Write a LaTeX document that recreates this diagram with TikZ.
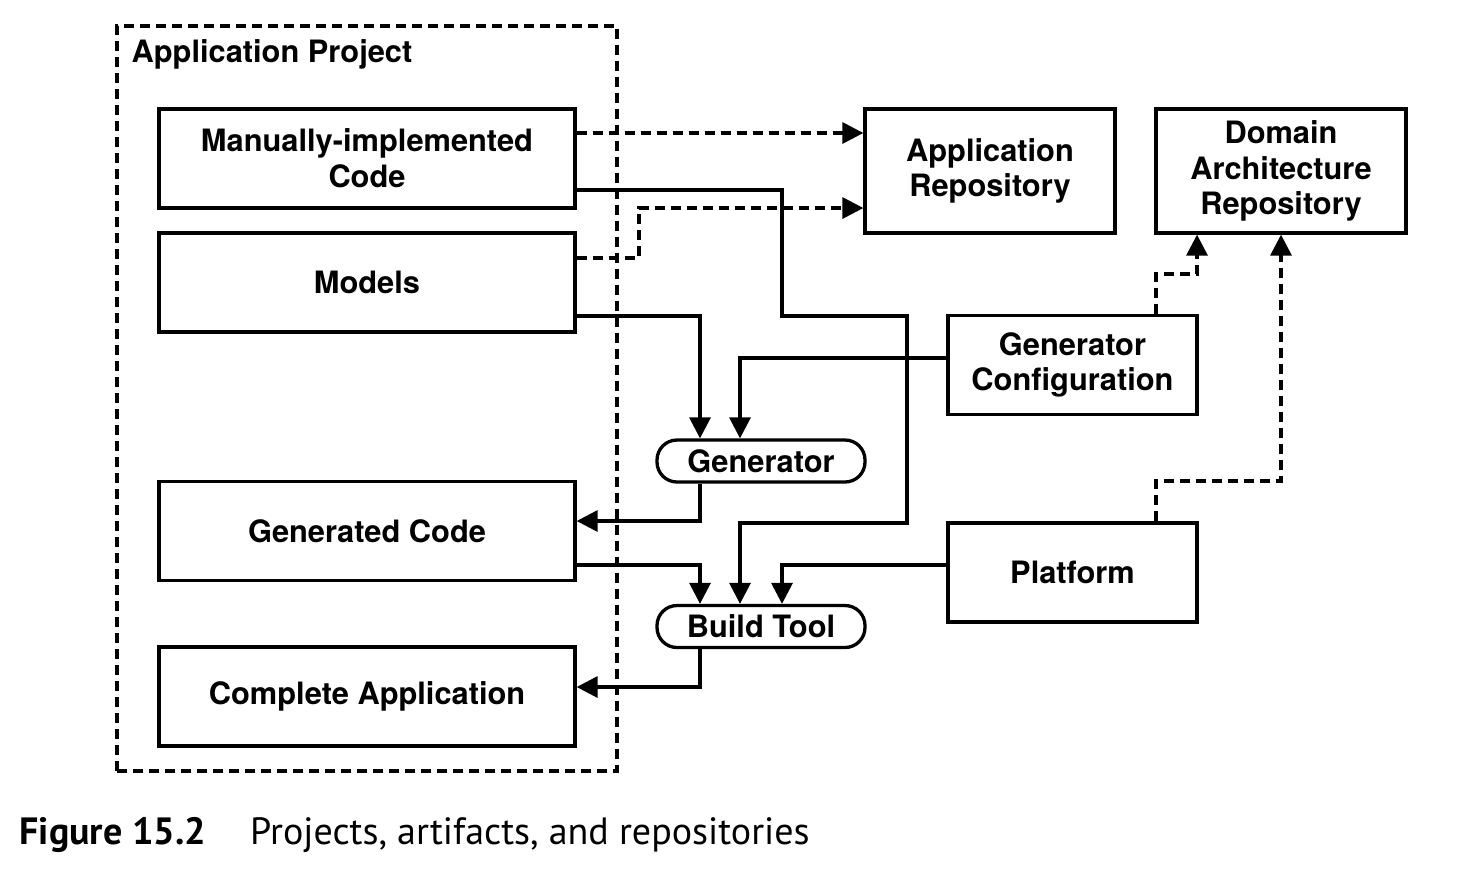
\documentclass[tikz,border=0pt]{standalone}
\usepackage{fontspec}
\setmainfont{TeX Gyre Heros}
\newfontfamily\capfont{PT Sans}
\usetikzlibrary{arrows.meta}

\begin{document}
\begin{tikzpicture}[x=0.5pt,y=-0.5pt,line width=1.65pt,
    >={Triangle[length=10.5pt,width=10.5pt]},
    lbl/.style={font=\fontsize{15.4}{17.8}\selectfont\bfseries},
    box/.style={draw,lbl,align=center,minimum width=208pt,minimum height=49.5pt},
    repo/.style={box,minimum width=125pt,minimum height=62pt},
    tool/.style={box,rounded corners=10pt,minimum width=104pt,minimum height=21pt,inner sep=0pt},
    dsh/.style={dash pattern=on 5pt off 3pt}]
    \useasboundingbox (0,0) rectangle (1476,880);

    % the project frame
    \node [draw,dsh,minimum width=250pt,minimum height=372.5pt] (project) at (367,398.5) {};
    \node [lbl,anchor=west,inner sep=0pt] (projlabel) at (130,54) {Application Project};

    % artifacts inside the project
    \node [box] (code) at (367,158.5) {Manually-implemented\\Code};
    \node [box] (models) at (367,282.5) {Models};
    \node [box] (gencode) at (367,531) {Generated Code};
    \node [box] (complete) at (367,696.5) {Complete Application};

    % tools
    \node [tool] (generator) at (761,461) {Generator};
    \node [tool] (build) at (761,626.5) {Build Tool};

    % repositories and the rest
    \node [repo] (apprepo) at (990,171) {Application\\Repository};
    \node [repo] (domrepo) at (1281,171) {Domain\\Architecture\\Repository};
    \node [box,minimum width=124.5pt] (genconf) at (1072.5,365) {Generator\\Configuration};
    \node [box,minimum width=124.5pt] (platform) at (1072.5,572.5) {Platform};

    % versioned in
    \draw [->,dsh] (code.east |- 0,133) -- (apprepo.west |- 0,133);
    \draw [->,dsh] (models.east |- 0,258) -| (639,208) -- (apprepo.west |- 0,208);
    \draw [->,dsh] (genconf.north -| 1156,0) |- (1197,274) -- (domrepo.south -| 1197,0);
    \draw [->,dsh] (platform.north -| 1156,0) |- (1281,481) -- (domrepo.south);

    % generation and build
    \draw [->] (models.east |- 0,316) -| (generator.north -| 700,0);
    \draw [->] (genconf.west |- 0,358) -| (generator.north -| 740,0);
    \draw [->] (generator.south -| 700,0) |- (gencode.east |- 0,521);
    \draw [->] (code.east |- 0,190) -| (782,316) -| (907,523) -| (build.north -| 740,0);
    \draw [->] (gencode.east |- 0,565) -| (build.north -| 700,0);
    \draw [->] (platform.west |- 0,565) -| (build.north -| 782,0);
    \draw [->] (build.south -| 700,0) |- (complete.east |- 0,687);

    \node [anchor=west,inner sep=0pt,font=\capfont\fontsize{19}{22}\selectfont] (caption) at (18,835)
        {\textbf{Figure 15.2}\hspace{22pt}Projects, artifacts, and repositories};
\end{tikzpicture}
\end{document}
